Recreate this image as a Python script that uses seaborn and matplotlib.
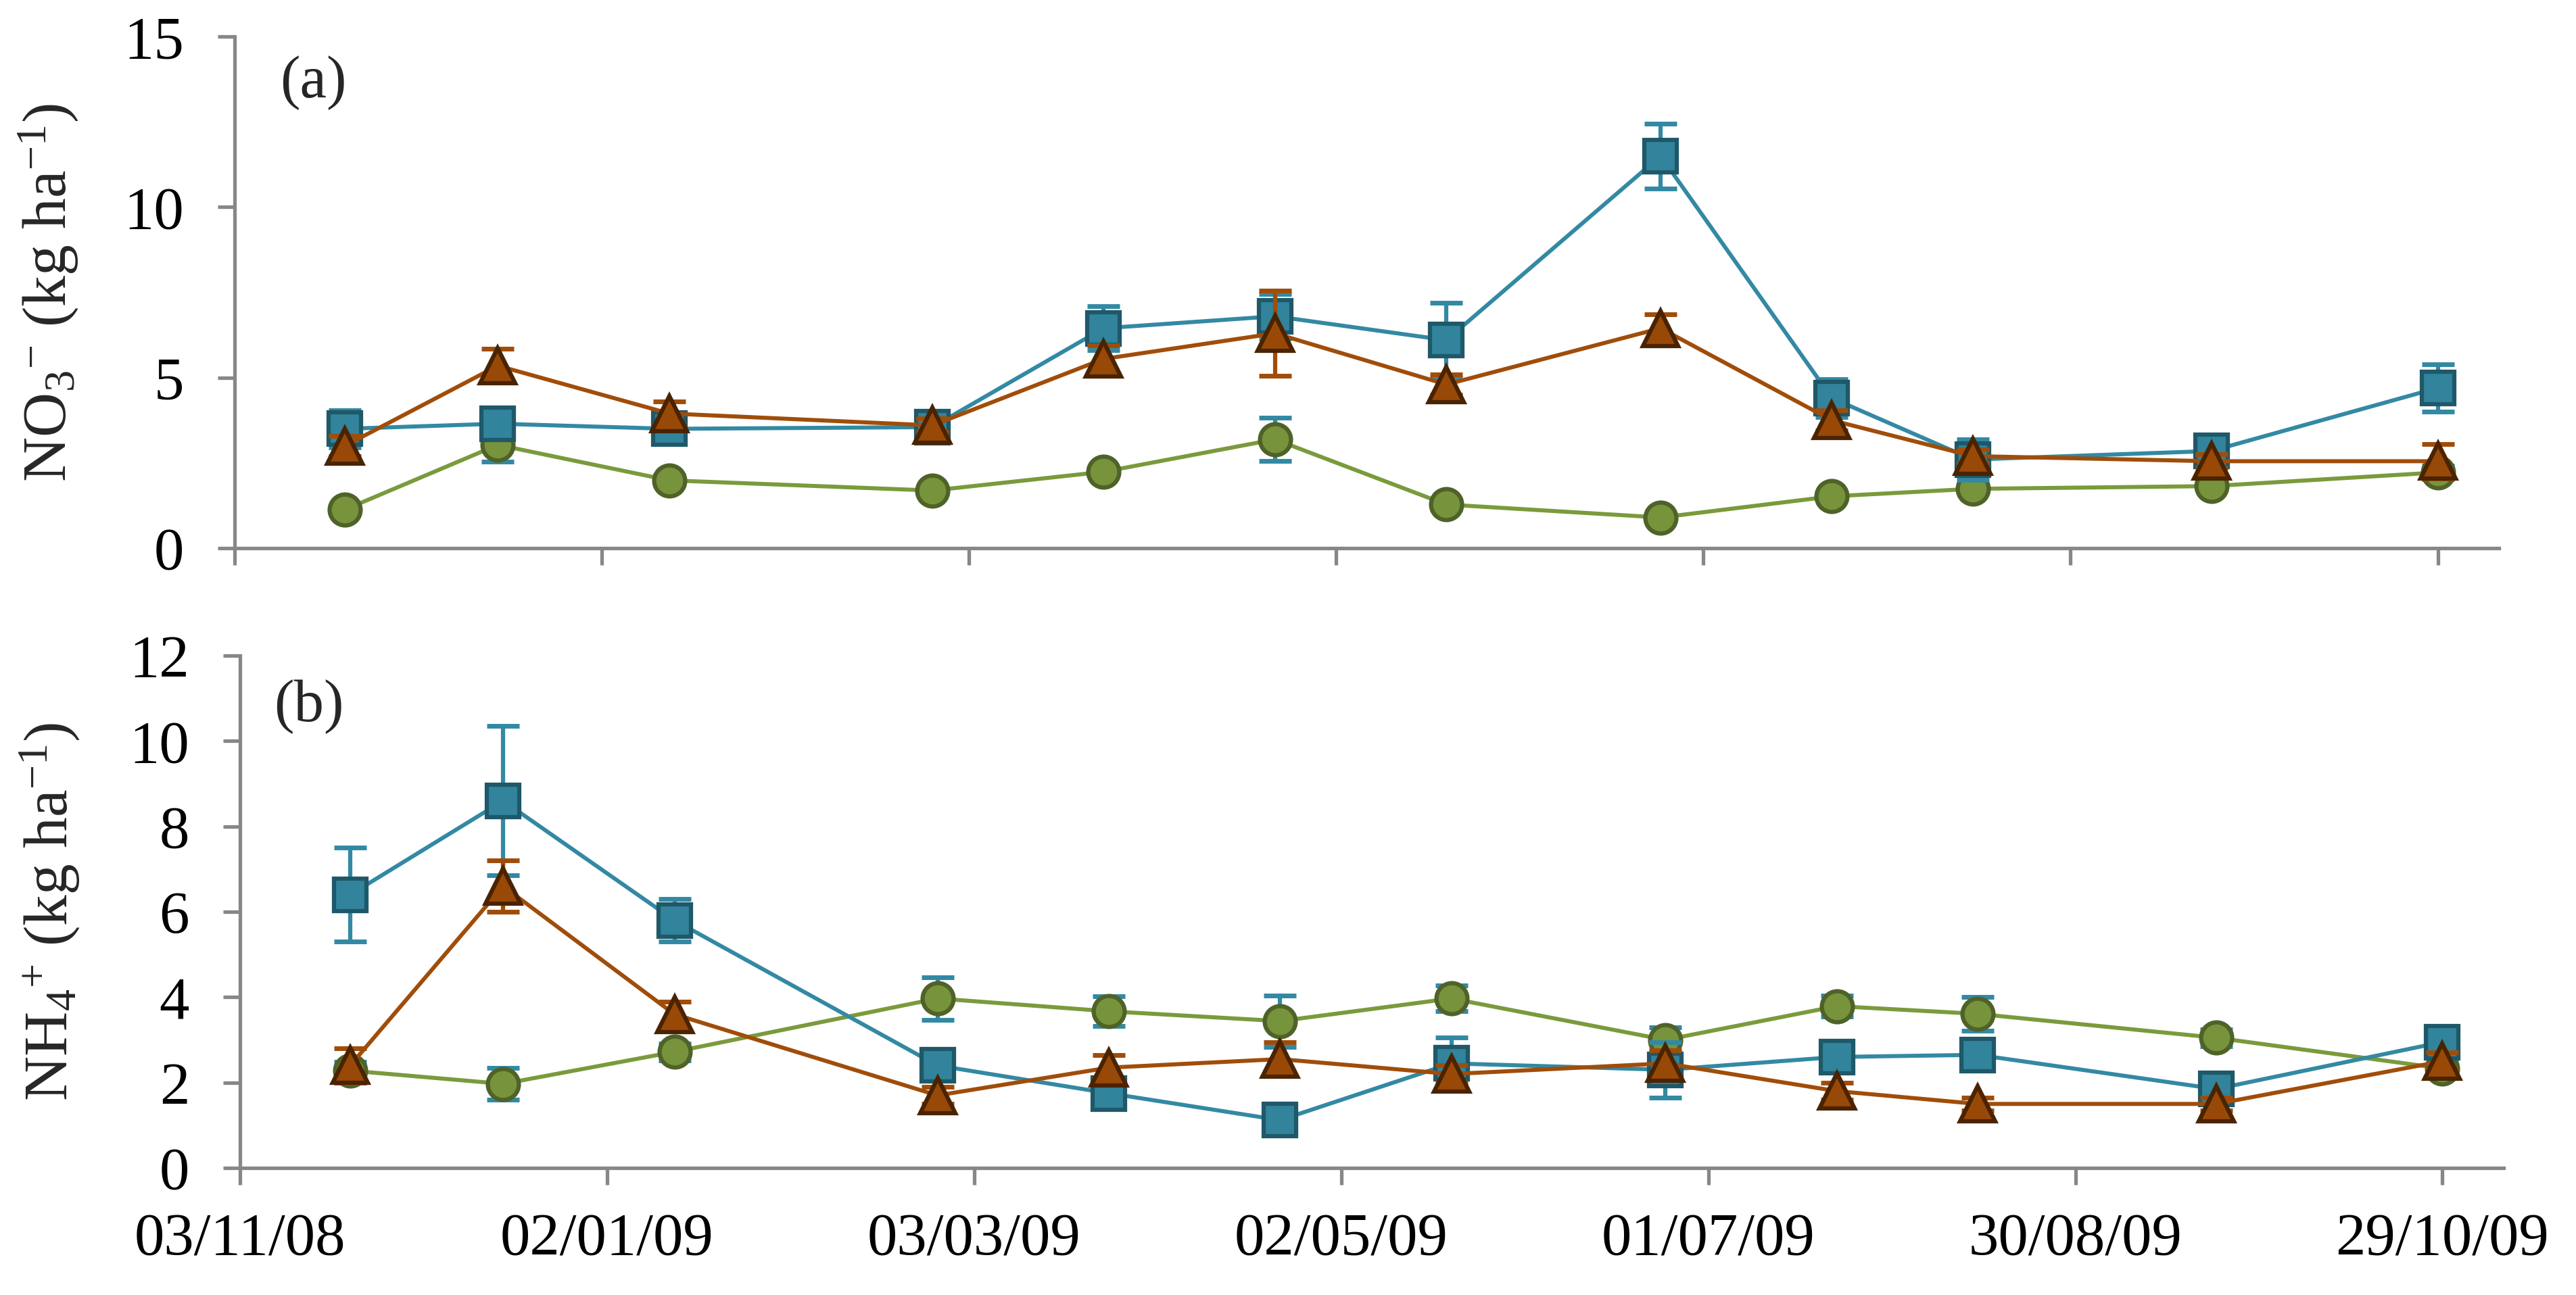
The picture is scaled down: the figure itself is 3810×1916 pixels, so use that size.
import numpy as np
import pandas as pd
import seaborn as sns
import matplotlib.pyplot as plt
import matplotlib.dates as mdates

# sampling dates (same for both panels)
dates = ['2008-11-21', '2008-12-16', '2009-01-13', '2009-02-25', '2009-03-25', '2009-04-22',
         '2009-05-20', '2009-06-24', '2009-07-22', '2009-08-14', '2009-09-22', '2009-10-29']

# panel (a) NO3-
no3_blue = [3.5, 3.65, 3.5, 3.55, 6.45, 6.8, 6.1, 11.5, 4.4, 2.6, 2.85, 4.7]
no3_blue_err = [0.55, 0.45, 0.3, 0.2, 0.65, 0.65, 1.1, 0.95, 0.55, 0.6, 0.45, 0.7]
no3_orange = [3.0, 5.35, 3.95, 3.6, 5.55, 6.3, 4.8, 6.45, 3.75, 2.7, 2.55, 2.55]
no3_orange_err = [0.3, 0.5, 0.35, 0.2, 0.4, 1.25, 0.3, 0.4, 0.3, 0.2, 0.2, 0.5]
no3_green = [1.13, 3.03, 1.99, 1.69, 2.24, 3.19, 1.28, 0.9, 1.52, 1.74, 1.82, 2.22]
no3_green_err = [0.1, 0.5, 0.15, 0.1, 0.1, 0.63, 0.15, 0.1, 0.1, 0.1, 0.1, 0.2]

# panel (b) NH4+
nh4_blue = [6.4, 8.6, 5.8, 2.4, 1.75, 1.12, 2.45, 2.3, 2.6, 2.65, 1.85, 2.95]
nh4_blue_err = [1.1, 1.75, 0.5, 0.3, 0.2, 0.2, 0.6, 0.65, 0.3, 0.3, 0.2, 0.3]
nh4_orange = [2.4, 6.6, 3.6, 1.7, 2.35, 2.55, 2.2, 2.45, 1.8, 1.5, 1.5, 2.5]
nh4_orange_err = [0.4, 0.6, 0.3, 0.2, 0.3, 0.4, 0.2, 0.3, 0.2, 0.15, 0.15, 0.2]
nh4_green = [2.28, 1.97, 2.72, 3.97, 3.67, 3.44, 3.97, 3.0, 3.79, 3.61, 3.05, 2.33]
nh4_green_err = [0.2, 0.37, 0.2, 0.5, 0.35, 0.6, 0.3, 0.3, 0.25, 0.4, 0.2, 0.2]

tick_dates = ['2008-11-03', '2009-01-02', '2009-03-03', '2009-05-02', '2009-07-01', '2009-08-30', '2009-10-29']

sns.set_style("ticks")
plt.rcParams['font.family'] = ['Liberation Serif', 'DejaVu Serif']
plt.rcParams['mathtext.fontset'] = 'custom'
plt.rcParams['mathtext.rm'] = 'Liberation Serif'
plt.rcParams['mathtext.it'] = 'Liberation Serif:italic'
plt.rcParams['mathtext.default'] = 'rm'

x = pd.to_datetime(dates)

fig = plt.figure(figsize=(38.1, 19.16), dpi=100)
ax_a = fig.add_axes([0.0911, 0.5767, 0.879, 0.395])
ax_b = fig.add_axes([0.0932, 0.0981, 0.8787, 0.3956])

grey = '#878787'
styles = {
    'blue': dict(color='#3389A3', fill='#31849B', edge='#1F5869', marker='s', ms=34, err='#3389A3', z=4),
    'orange': dict(color='#A04D0A', fill='#984807', edge='#4A2300', marker='^', ms=38, err='#A04D0A', z=5),
    'green': dict(color='#7A9A3C', fill='#77933C', edge='#4F6228', marker='o', ms=33, err='#3389A3', z=3),
}


def draw(ax, series):
    for name, vals, errs in series:
        s = styles[name]
        ax.errorbar(x, vals, yerr=errs, fmt='none', ecolor=s['err'], elinewidth=4.5,
                    capsize=17, capthick=5, zorder=s['z'] - 0.5)
        sns.lineplot(x=x, y=vals, ax=ax, color=s['color'], linewidth=4.3,
                     marker=s['marker'], markersize=s['ms'], markerfacecolor=s['fill'],
                     markeredgecolor=s['edge'], markeredgewidth=4.5, zorder=s['z'])


draw(ax_a, [('green', no3_green, no3_green_err),
            ('blue', no3_blue, no3_blue_err),
            ('orange', no3_orange, no3_orange_err)])
draw(ax_b, [('green', nh4_green, nh4_green_err),
            ('blue', nh4_blue, nh4_blue_err),
            ('orange', nh4_orange, nh4_orange_err)])

xmin = pd.Timestamp('2008-11-03')
xmax = pd.Timestamp('2009-11-08')
for ax in (ax_a, ax_b):
    ax.set_xlim(xmin, xmax)
    ax.set_xticks(pd.to_datetime(tick_dates))
    ax.xaxis.set_major_formatter(mdates.DateFormatter('%d/%m/%y'))
    for side in ('top', 'right'):
        ax.spines[side].set_visible(False)
    for side in ('left', 'bottom'):
        ax.spines[side].set_color(grey)
        ax.spines[side].set_linewidth(3.8)
    ax.tick_params(axis='both', colors=grey, width=3.8, length=18, labelsize=64, labelcolor='black')
    ax.tick_params(axis='y', pad=36)
    ax.tick_params(axis='x', pad=30)
    ax.set_xlabel('')

ax_a.set_ylim(0, 15)
ax_a.set_yticks([0, 5, 10, 15])
ax_a.tick_params(axis='x', labelbottom=False)
ax_a.set_ylabel(r'NO$_{3}$$^{-}$ (kg ha$^{-1}$)', fontsize=66)
ax_a.yaxis.set_label_coords(-0.068, 0.5)
ax_a.text(0.02, 0.91, '(a)', transform=ax_a.transAxes, fontsize=64, va='center', ha='left')

ax_b.set_ylim(0, 12)
ax_b.set_yticks([0, 2, 4, 6, 8, 10, 12])
ax_b.set_ylabel(r'NH$_{4}$$^{+}$ (kg ha$^{-1}$)', fontsize=66)
ax_b.yaxis.set_label_coords(-0.07, 0.5)
ax_b.text(0.015, 0.90, '(b)', transform=ax_b.transAxes, fontsize=64, va='center', ha='left')

fig.savefig('out.png', dpi=100, facecolor='white')
